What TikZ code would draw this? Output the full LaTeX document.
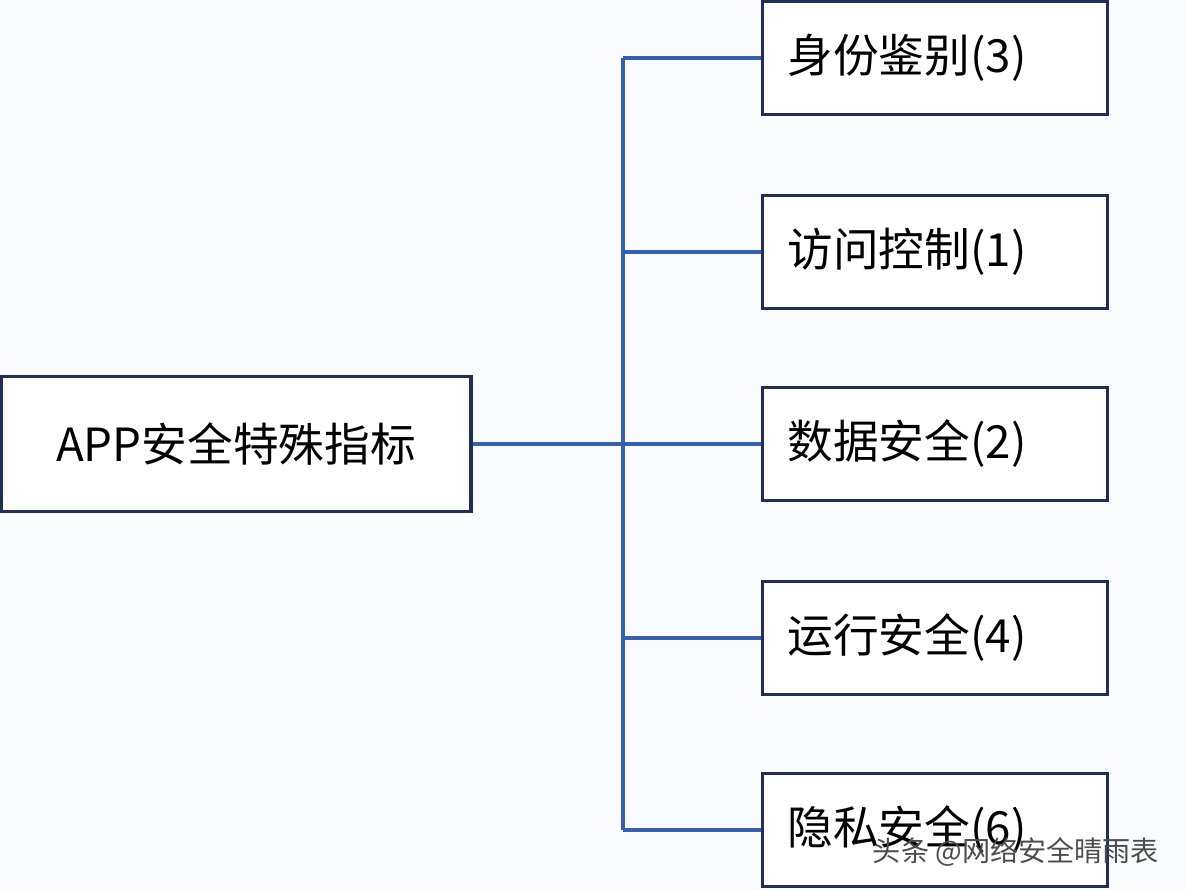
\documentclass[tikz,border=0pt]{standalone}
\usepackage{fontspec}
\setmainfont{Noto Sans CJK SC}
\definecolor{linkblue}{RGB}{55,95,175}
\definecolor{boxnavy}{RGB}{35,45,85}
\definecolor{bgpale}{RGB}{250,251,254}
\begin{document}
\begin{tikzpicture}[x=0.02cm,y=-0.02cm,
  box/.style={draw=boxnavy,line width=1.8pt,fill=white,inner sep=0pt,
    font=\fontsize{26}{30}\selectfont},
  leaf/.style={box,minimum width=6.9cm,minimum height=2.26cm,text width=5.9cm,align=left},
  link/.style={draw=linkblue,line width=2pt}]
\fill[bgpale] (0,0) rectangle (1186,890);
\useasboundingbox (0,0) rectangle (1186,890);
\node[box,text width=8.8cm,align=center,minimum width=9.4cm,minimum height=2.7cm] (root) at (236,444) {APP安全特殊指标};
\node[leaf] (k1) at (935,58) {身份鉴别(3)};
\node[leaf] (k2) at (935,252) {访问控制(1)};
\node[leaf] (k3) at (935,444) {数据安全(2)};
\node[leaf] (k4) at (935,638) {运行安全(4)};
\node[leaf] (k5) at (935,830) {隐私安全(6)};
\coordinate (top) at (623,58);
\coordinate (bot) at (623,830);
\draw[link] (top) -- (bot);
\draw[link] (root.east) -- (k3.west);
\foreach \k in {k1,k2,k4,k5}
  \draw[link] (\k.west) -- (\k.west -| top);
\node[font=\fontsize{16}{18}\selectfont,text=black!70,anchor=east] (mark) at (1165,852) {头条 @网络安全晴雨表};
\end{tikzpicture}
\end{document}
